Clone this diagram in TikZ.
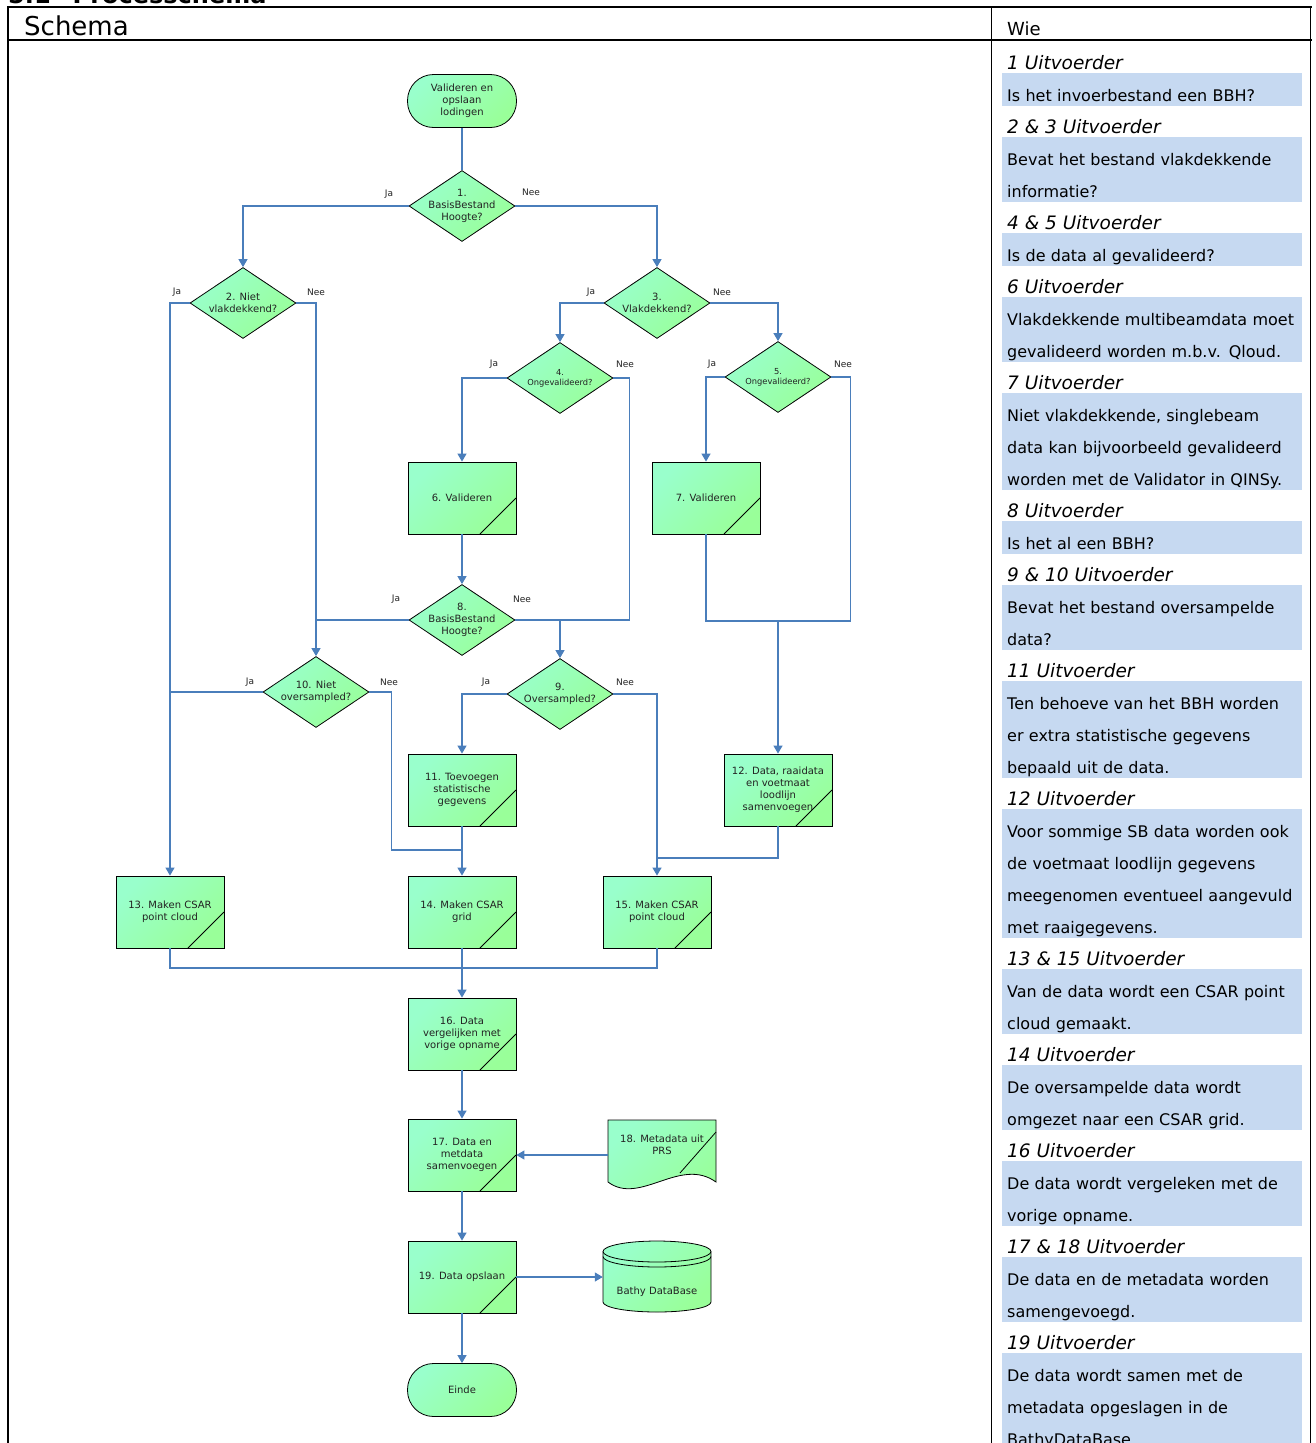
\documentclass[tikz,border=0pt]{standalone}
\usepackage{fontspec}
\setmainfont{DejaVu Sans}
\usepackage{xcolor}
\usepackage{tikz}
\usetikzlibrary{arrows.meta,shapes.geometric}
\definecolor{mintA}{HTML}{99FFCC}
\definecolor{mintB}{HTML}{99FF99}
\definecolor{flowblue}{HTML}{4A7EBB}
\definecolor{wieblue}{HTML}{C6D9F1}
\definecolor{inkgray}{HTML}{222222}

\begin{document}
\begin{tikzpicture}[x=1pt, y=1pt, >={Triangle[length=8pt, width=9pt]},
  mint/.style={top color=mintA, bottom color=mintB, shading angle=45},
  term/.style={rectangle, rounded corners=26pt, draw=black, line width=0.8pt, mint, minimum width=109pt, minimum height=53pt, inner sep=0pt, align=center, text=inkgray, font=\fontsize{10}{12}\selectfont},
  proc/.style={rectangle, draw=black, line width=0.8pt, mint, minimum width=108pt, minimum height=72pt, inner sep=0pt, align=center, text=inkgray, font=\fontsize{10}{12}\selectfont,
    path picture={\draw[black, line width=0.8pt] ([xshift=-36pt]path picture bounding box.south east) -- ([yshift=36pt]path picture bounding box.south east);}},
  dec/.style={diamond, draw=black, line width=0.8pt, mint, minimum width=106pt, minimum height=71pt, inner sep=-12pt, align=center, text=inkgray, font=\fontsize{10}{12}\selectfont},
  bare/.style={draw=none, inner sep=0pt, align=center, text=inkgray, font=\fontsize{10}{12}\selectfont},
  link/.style={draw=flowblue, line width=1.2pt},
  linkarrow/.style={link, ->},
  yn/.style={inner sep=0pt, text=inkgray, font=\fontsize{9}{9}\selectfont},
  wiehead/.style={anchor=base west, inner sep=0pt, font=\fontsize{18.5}{20}\selectfont\itshape},
  wiebox/.style={anchor=north west, fill=wieblue, text width=290pt, inner xsep=5pt, inner ysep=0pt, align=left, font=\fontsize{16}{32}\selectfont, execute at begin node=\rule{0pt}{28pt}, execute at end node=\rule[-5pt]{0pt}{5pt}},
  tableline/.style={line width=1.8pt, black, line cap=rect}]
\useasboundingbox (0,0) rectangle (1316,-1443);
\node[anchor=base west, inner sep=0pt, font=\fontsize{24}{24}\selectfont\bfseries] (title) at (8,-3) {5.1\hspace{22pt}Processchema};
\draw[tableline] (8,-7) -- (1311,-7);
\draw[tableline] (8,-40) -- (1311,-40);
\draw[tableline] (8,-7) -- (8,-1460);
\draw[tableline] (991.5,-7) -- (991.5,-1460);
\draw[tableline] (1310.5,-7) -- (1310.5,-1460);
\node[anchor=base west, inner sep=0pt, font=\fontsize{26}{26}\selectfont] (schema) at (24,-35) {Schema};
\node[anchor=base west, inner sep=0pt, font=\fontsize{18}{18}\selectfont] (wie) at (1007,-35) {Wie};

\node[term] (start) at (462,-101) {Valideren en\\opslaan\\lodingen};
\node[dec] (d1) at (462,-206) {1.\\BasisBestand\\Hoogte?};
\node[dec] (d2) at (243,-303) {2. Niet\\vlakdekkend?};
\node[dec] (d3) at (657,-303) {3.\\Vlakdekkend?};
\node[dec, font=\fontsize{8.3}{10}\selectfont] (d4) at (560,-378) {4.\\Ongevalideerd?};
\node[dec, font=\fontsize{8.3}{10}\selectfont] (d5) at (778,-377) {5.\\Ongevalideerd?};
\node[proc] (b6) at (462,-498) {6. Valideren};
\node[proc] (b7) at (706,-498) {7. Valideren};
\node[dec] (d8) at (462,-620) {8.\\BasisBestand\\Hoogte?};
\node[dec] (d9) at (560,-694) {9.\\Oversampled?};
\node[dec] (d10) at (316,-692) {10. Niet\\oversampled?};
\node[proc] (b11) at (462,-790) {11. Toevoegen\\statistische\\gegevens};
\node[proc] (b12) at (778,-790) {12. Data, raaidata\\en voetmaat\\loodlijn\\samenvoegen};
\node[proc] (b13) at (170,-912) {13. Maken CSAR\\point cloud};
\node[proc] (b14) at (462,-912) {14. Maken CSAR\\grid};
\node[proc] (b15) at (657,-912) {15. Maken CSAR\\point cloud};
\node[proc] (b16) at (462,-1034) {16. Data\\vergelijken met\\vorige opname};
\node[proc] (b17) at (462,-1155) {17. Data en\\metdata\\samenvoegen};
\path[draw=black, line width=0.8pt, mint] (608,-1120) -- (716,-1120) -- (716,-1182) .. controls (680,-1156) and (640,-1206) .. (608,-1182) -- cycle;
\draw[black, line width=0.8pt] (680,-1173) -- (716,-1132);
\node[bare, minimum width=108pt, minimum height=50pt] (b18) at (662,-1145) {18. Metadata uit\\PRS};
\node[proc] (b19) at (462,-1277) {19. Data opslaan};
\path[draw=black, line width=0.8pt, mint] (603,-1251.5) -- (603,-1302) arc[start angle=180, end angle=360, x radius=54pt, y radius=10pt] -- (711,-1251.5) arc[start angle=0, end angle=180, x radius=54pt, y radius=10.5pt] -- cycle;
\draw[black, line width=0.8pt] (603,-1251.5) arc[start angle=180, end angle=360, x radius=54pt, y radius=10.5pt];
\draw[black, line width=0.8pt] (603,-1256.5) arc[start angle=180, end angle=360, x radius=54pt, y radius=10.5pt];
\node[bare, minimum width=108pt, minimum height=40pt] (db) at (657,-1292) {Bathy DataBase};
\node[term] (einde) at (462,-1390) {Einde};

\draw[link] (start.south) -- (d1.north);
\draw[linkarrow] (d1.west) -| (d2.north);
\draw[linkarrow] (d1.east) -| (d3.north);
\draw[linkarrow] (d2.west) -| (b13.north);
\draw[linkarrow] (d2.east) -| (d10.north);
\draw[linkarrow] (d3.west) -| (d4.north);
\draw[linkarrow] (d3.east) -| (d5.north);
\draw[linkarrow] (d4.west) -| (b6.north);
\draw[link] (d4.east) -- ++(16,0) |- (d8.east -| d9.north);
\draw[linkarrow] (d5.west) -| (b7.north);
\coordinate (j12) at (778,-621);
\draw[link] (d5.east) -- ++(19,0) |- (j12);
\draw[link] (b7.south) |- (j12);
\draw[linkarrow] (j12) -- (b12.north);
\draw[linkarrow] (b6.south) -- (d8.north);
\draw[link] (d8.west) -- (d8.west -| d10.north);
\draw[linkarrow] (d8.east) -| (d9.north);
\draw[linkarrow] (d9.west) -| (b11.north);
\draw[linkarrow] (d9.east) -| (b15.north);
\draw[link] (d10.west) -- (d10.west -| b13.north);
\coordinate (j14) at (462,-850);
\draw[link] (d10.east) -- ++(22,0) |- (j14);
\draw[linkarrow] (b11.south) -- (b14.north);
\coordinate (j15) at (657,-858);
\draw[link] (b12.south) |- (j15);
\coordinate (j16) at (462,-968);
\draw[link] (b13.south) |- (j16) -| (b15.south);
\draw[linkarrow] (b14.south) -- (b16.north);
\draw[linkarrow] (b16.south) -- (b17.north);
\draw[linkarrow] (b18.west |- b17.east) -- (b17.east);
\draw[linkarrow] (b17.south) -- (b19.north);
\draw[linkarrow] (b19.east) -- (b19.east -| db.west);
\draw[linkarrow] (b19.south) -- (einde.north);

\node[yn] (d1ja) at (389,-194) {Ja};
\node[yn] (d1nee) at (531,-192) {Nee};
\node[yn] (d2ja) at (177,-292) {Ja};
\node[yn] (d2nee) at (316,-292) {Nee};
\node[yn] (d3ja) at (591,-292) {Ja};
\node[yn] (d3nee) at (722,-292) {Nee};
\node[yn] (d4ja) at (494,-364) {Ja};
\node[yn] (d4nee) at (625,-364) {Nee};
\node[yn] (d5ja) at (712,-364) {Ja};
\node[yn] (d5nee) at (843,-364) {Nee};
\node[yn] (d8ja) at (396,-599) {Ja};
\node[yn] (d8nee) at (522,-599) {Nee};
\node[yn] (d9ja) at (486,-682) {Ja};
\node[yn] (d9nee) at (625,-682) {Nee};
\node[yn] (d10ja) at (250,-682) {Ja};
\node[yn] (d10nee) at (389,-682) {Nee};

\node[wiehead] (h1) at (1007,-69) {1 Uitvoerder};
\node[wiebox] (w1) at (1002,-73) {Is het invoerbestand een BBH?};
\node[wiehead] (h2) at (1007,-133) {2 \& 3 Uitvoerder};
\node[wiebox] (w2) at (1002,-137) {Bevat het bestand vlakdekkende\\informatie?};
\node[wiehead] (h3) at (1007,-229) {4 \& 5 Uitvoerder};
\node[wiebox] (w3) at (1002,-233) {Is de data al gevalideerd?};
\node[wiehead] (h4) at (1007,-293) {6 Uitvoerder};
\node[wiebox] (w4) at (1002,-297) {Vlakdekkende multibeamdata moet\\gevalideerd worden m.b.v. Qloud.};
\node[wiehead] (h5) at (1007,-389) {7 Uitvoerder};
\node[wiebox] (w5) at (1002,-393) {Niet vlakdekkende, singlebeam\\data kan bijvoorbeeld gevalideerd\\worden met de Validator in QINSy.};
\node[wiehead] (h6) at (1007,-517) {8 Uitvoerder};
\node[wiebox] (w6) at (1002,-521) {Is het al een BBH?};
\node[wiehead] (h7) at (1007,-581) {9 \& 10 Uitvoerder};
\node[wiebox] (w7) at (1002,-585) {Bevat het bestand oversampelde\\data?};
\node[wiehead] (h8) at (1007,-677) {11 Uitvoerder};
\node[wiebox] (w8) at (1002,-681) {Ten behoeve van het BBH worden\\er extra statistische gegevens\\bepaald uit de data.};
\node[wiehead] (h9) at (1007,-805) {12 Uitvoerder};
\node[wiebox] (w9) at (1002,-809) {Voor sommige SB data worden ook\\de voetmaat loodlijn gegevens\\meegenomen eventueel aangevuld\\met raaigegevens.};
\node[wiehead] (h10) at (1007,-965) {13 \& 15 Uitvoerder};
\node[wiebox] (w10) at (1002,-969) {Van de data wordt een CSAR point\\cloud gemaakt.};
\node[wiehead] (h11) at (1007,-1061) {14 Uitvoerder};
\node[wiebox] (w11) at (1002,-1065) {De oversampelde data wordt\\omgezet naar een CSAR grid.};
\node[wiehead] (h12) at (1007,-1157) {16 Uitvoerder};
\node[wiebox] (w12) at (1002,-1161) {De data wordt vergeleken met de\\vorige opname.};
\node[wiehead] (h13) at (1007,-1253) {17 \& 18 Uitvoerder};
\node[wiebox] (w13) at (1002,-1257) {De data en de metadata worden\\samengevoegd.};
\node[wiehead] (h14) at (1007,-1349) {19 Uitvoerder};
\node[wiebox] (w14) at (1002,-1353) {De data wordt samen met de\\metadata opgeslagen in de\\BathyDataBase.};
\end{tikzpicture}
\end{document}
